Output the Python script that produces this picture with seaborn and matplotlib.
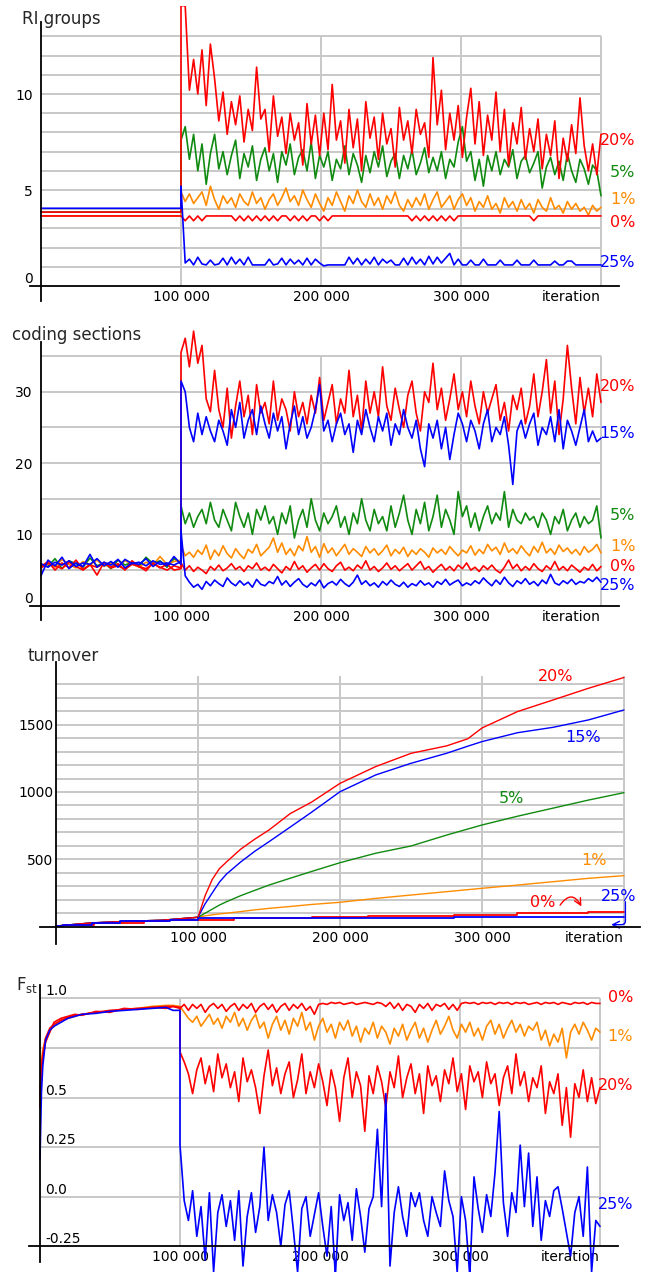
import numpy as np
import pandas as pd
import matplotlib
matplotlib.use("Agg")
import matplotlib.pyplot as plt
import seaborn as sns

# ------------------------------------------------------------------ data
post_iter = np.arange(100000, 400001, 3000)          # 101 sampled iterations after the switch

# --- RI groups
ri_pre_x = [0, 100000]
ri_pre_20 = [3.85, 3.85]
ri_pre_5 = [3.85, 3.85]
ri_pre_1 = [3.65, 3.65]
ri_pre_0 = [3.65, 3.65]
ri_pre_25 = [4.05, 4.05]
ri_20 = [14.6, 14.6, 10.2, 11.8, 10.0, 12.3, 9.4, 12.6, 10.8, 8.6,
         10.1, 7.9, 9.6, 8.4, 9.9, 7.5, 9.2, 8.1, 11.4, 8.7,
         9.2, 7.0, 9.9, 7.8, 8.8, 6.9, 9.0, 7.6, 8.5, 6.3,
         9.5, 7.4, 8.9, 6.8, 9.0, 7.1, 10.5, 7.6, 8.6, 6.4,
         9.2, 7.2, 8.7, 6.0, 9.6, 7.7, 8.8, 6.6, 9.0, 7.4,
         8.2, 6.2, 9.3, 7.6, 8.6, 6.9, 9.2, 7.9, 8.5, 6.7,
         11.9, 8.4, 10.2, 7.1, 9.0, 7.6, 9.4, 6.7, 8.8, 10.3,
         7.4, 9.6, 6.8, 8.9, 7.6, 10.1, 7.0, 9.2, 6.3, 8.5,
         7.4, 9.3, 6.6, 8.2, 7.0, 8.7, 6.1, 7.9, 6.8, 8.6,
         5.6, 7.7, 6.5, 8.4, 6.9, 9.8, 7.3, 6.0, 7.4, 5.8,
         7.9]
ri_5 = [7.6, 8.3, 6.6, 7.9, 6.0, 7.4, 5.3, 6.9, 7.9, 6.1,
        7.0, 5.8, 6.8, 7.6, 5.6, 6.9, 6.2, 7.3, 5.5, 6.6,
        7.2, 6.0, 6.9, 5.4, 7.0, 6.3, 7.4, 5.8, 6.7, 7.1,
        6.0, 7.5, 5.6, 6.8, 6.2, 7.0, 5.5, 6.6, 6.1, 7.3,
        5.8, 6.9, 6.3, 5.4, 6.8, 5.9, 7.0, 6.2, 7.3, 5.7,
        6.5, 6.9, 5.6, 6.8, 6.1, 7.1, 5.8, 6.4, 7.2, 5.9,
        6.7, 6.0, 7.0, 5.6, 6.6, 6.2, 7.5, 8.3, 6.5, 7.0,
        5.5, 6.6, 5.2, 6.8, 6.0, 7.0, 5.8, 6.6, 6.2, 7.1,
        5.6, 6.5, 6.8, 5.9, 6.4, 7.0, 5.1, 6.2, 6.7, 5.8,
        6.5, 5.5, 6.9, 6.0, 5.4, 6.6, 6.1, 5.3, 6.3, 6.0,
        4.7]
ri_1 = [4.9, 4.4, 4.8, 4.3, 4.6, 4.9, 4.2, 5.2, 4.5, 4.0,
        4.7, 4.3, 4.6, 4.1, 4.8, 4.4, 4.2, 4.9, 4.3, 4.6,
        4.0, 4.5, 4.8, 4.2, 4.6, 5.1, 4.4, 4.7, 4.2, 5.0,
        4.5, 4.1, 4.8, 4.3, 3.9, 4.6, 4.2, 4.9, 4.4, 3.9,
        4.7, 4.3, 5.0, 4.4, 4.1, 4.8, 4.2, 4.6, 4.0, 4.7,
        4.3, 4.9, 4.2, 3.9, 4.5, 4.1, 4.6, 4.2, 4.8, 4.0,
        4.5, 4.9, 4.1, 4.4, 4.7, 4.0, 4.5, 4.8, 4.2, 4.6,
        3.9, 4.4, 4.1, 4.7, 4.0, 4.3, 3.8, 4.6, 4.1, 4.4,
        3.9, 4.5, 4.0, 4.3, 3.8, 4.5, 4.1, 3.9, 4.6, 4.0,
        4.2, 3.8, 4.4, 4.0, 4.3, 3.9, 4.1, 3.7, 4.2, 3.9,
        4.1]
ri_0 = [3.65, 3.4, 3.65, 3.4, 3.65, 3.4, 3.65, 3.65, 3.65, 3.65,
        3.65, 3.65, 3.65, 3.4, 3.65, 3.4, 3.65, 3.4, 3.65, 3.4,
        3.65, 3.4, 3.65, 3.4, 3.65, 3.65, 3.4, 3.65, 3.4, 3.65,
        3.4, 3.65, 3.65, 3.4, 3.65, 3.4, 3.65, 3.65, 3.65, 3.65,
        3.65, 3.65, 3.65, 3.65, 3.65, 3.65, 3.65, 3.65, 3.65, 3.65,
        3.65, 3.65, 3.65, 3.65, 3.65, 3.4, 3.65, 3.4, 3.65, 3.4,
        3.65, 3.4, 3.65, 3.4, 3.65, 3.4, 3.65, 3.65, 3.65, 3.65,
        3.65, 3.65, 3.65, 3.65, 3.65, 3.65, 3.65, 3.65, 3.65, 3.65,
        3.65, 3.65, 3.65, 3.65, 3.4, 3.65, 3.65, 3.65, 3.65, 3.65,
        3.65, 3.65, 3.65, 3.65, 3.65, 3.65, 3.65, 3.65, 3.65, 3.65,
        3.65]
ri_25 = [5.2, 1.2, 1.4, 1.1, 1.5, 1.15, 1.1, 1.35, 1.1, 1.15,
         1.45, 1.1, 1.5, 1.15, 1.4, 1.1, 1.5, 1.1, 1.1, 1.1,
         1.1, 1.4, 1.1, 1.15, 1.45, 1.1, 1.4, 1.15, 1.35, 1.1,
         1.45, 1.1, 1.4, 1.2, 1.05, 1.1, 1.1, 1.1, 1.1, 1.1,
         1.5, 1.15, 1.45, 1.1, 1.4, 1.15, 1.5, 1.1, 1.4, 1.2,
         1.35, 1.1, 1.1, 1.45, 1.1, 1.5, 1.15, 1.4, 1.1, 1.55,
         1.15, 1.5, 1.2, 1.45, 1.7, 1.1, 1.4, 1.1, 1.1, 1.35,
         1.1, 1.1, 1.4, 1.1, 1.1, 1.1, 1.35, 1.1, 1.1, 1.1,
         1.35, 1.1, 1.1, 1.1, 1.35, 1.1, 1.1, 1.1, 1.1, 1.3,
         1.1, 1.1, 1.3, 1.3, 1.1, 1.1, 1.1, 1.1, 1.1, 1.1,
         1.1]

# --- coding sections
cs_pre_x = np.arange(0, 100001, 5000)
cs_pre_20 = [5.5, 6.2, 5.0, 6.0, 5.3, 6.4, 5.1, 5.8, 4.3, 6.1, 5.4, 5.9, 5.0, 6.3, 5.5, 4.9, 6.0, 5.3, 5.8, 5.0, 5.2]
cs_pre_15 = [4.2, 6.4, 5.6, 6.8, 5.2, 6.0, 5.5, 7.2, 5.4, 6.1, 5.7, 6.5, 5.3, 6.0, 5.8, 6.6, 5.5, 6.2, 5.6, 6.9, 5.8]
cs_pre_5 = [5.8, 5.5, 6.6, 5.2, 6.3, 5.9, 5.4, 6.7, 5.6, 6.0, 5.2, 6.4, 5.7, 6.1, 5.5, 6.8, 5.9, 6.3, 5.4, 6.6, 6.0]
cs_pre_1 = [5.6, 6.0, 5.4, 6.5, 5.8, 5.3, 6.2, 5.7, 6.4, 5.5, 6.0, 5.6, 6.3, 5.9, 5.4, 6.1, 5.7, 6.9, 5.8, 6.2, 6.4]
cs_pre_0 = [5.3, 5.9, 5.6, 5.2, 6.1, 5.5, 5.0, 5.7, 5.4, 6.0, 5.3, 5.6, 5.1, 5.8, 5.5, 5.2, 5.9, 5.4, 5.0, 5.6, 5.3]
cs_pre_25 = [5.9, 5.4, 6.1, 5.7, 6.3, 5.5, 6.0, 5.8, 6.6, 5.6, 6.2, 5.4, 6.5, 5.9, 6.1, 5.6, 6.3, 5.8, 6.0, 5.7, 6.2]
cs_20 = [35.5, 37.5, 33.5, 38.5, 34.0, 36.5, 29.0, 27.2, 33.0, 27.5,
         25.0, 30.5, 23.5, 28.0, 31.5, 26.5, 29.5, 24.0, 31.0, 27.0,
         28.5, 25.5, 31.5, 26.0, 29.0, 27.5, 24.5, 30.0, 26.5, 28.5,
         25.5, 29.5, 27.0, 32.0, 26.0, 28.5, 31.0, 25.5, 29.0, 27.0,
         33.0, 26.5, 29.5, 24.5, 31.5, 27.0, 30.0, 26.5, 33.5, 28.0,
         26.0, 30.5, 27.5, 25.0, 29.5, 31.5, 27.0, 24.5, 30.0, 28.5,
         34.0, 27.5, 30.5, 26.0, 29.0, 32.5, 27.5, 30.0, 26.5, 31.5,
         28.0, 25.5, 30.0, 27.0, 29.0, 31.0, 26.0, 28.5, 24.5, 29.5,
         27.5, 30.5, 25.5, 28.0, 32.5, 26.5, 30.0, 34.5, 27.0, 31.5,
         24.0, 29.0, 36.5, 30.5, 25.5, 32.0, 27.0, 30.5, 26.5, 32.5,
         28.5]
cs_15 = [31.5, 30.0, 25.0, 23.0, 27.0, 24.0, 26.5, 24.5, 23.0, 26.0,
         24.5, 22.5, 27.5, 25.0, 28.5, 23.5, 26.0, 27.5, 24.0, 28.0,
         25.5, 23.5, 27.0, 24.5, 26.5, 22.0, 25.5, 28.0, 24.0, 26.5,
         23.5, 25.0, 27.5, 31.0, 24.5, 26.0, 23.0, 25.5, 27.0, 24.0,
         25.5, 21.5, 26.0, 24.0, 27.5, 25.0, 23.0, 26.5, 24.5, 27.0,
         22.5, 25.5, 24.0, 27.5, 25.0, 23.5, 26.0, 22.0, 19.5, 25.5,
         23.5, 26.0, 22.0, 25.0, 20.5, 24.0, 27.0, 25.5, 23.0, 26.0,
         24.5, 22.0, 25.5, 27.5, 23.0, 25.0, 24.0, 26.5, 22.5, 17.0,
         24.5, 26.0, 23.5, 25.5, 27.0, 22.5, 25.0, 24.0, 26.5, 23.0,
         27.5, 22.0, 26.0, 24.5, 22.5, 25.0, 27.5, 23.0, 24.5, 23.0,
         23.5]
cs_5 = [14.0, 11.5, 13.0, 11.0, 12.5, 13.5, 11.5, 14.5, 12.0, 11.0,
        13.5, 12.0, 10.5, 14.5, 12.5, 11.0, 13.0, 10.0, 13.5, 12.0,
        14.0, 11.5, 12.5, 10.0, 13.0, 11.5, 14.0, 9.5, 12.0, 13.5,
        11.0, 15.0, 12.0, 10.5, 13.0, 11.5, 12.5, 14.0, 11.0, 12.5,
        10.0, 13.0, 11.5, 15.0, 12.0, 10.5, 13.5, 11.5, 12.5, 10.5,
        14.0, 11.0, 13.0, 15.5, 12.0, 10.0, 13.5, 11.5, 14.5, 10.5,
        12.5, 15.5, 11.0, 13.5, 12.0, 10.0, 16.0, 12.5, 14.0, 11.0,
        13.0, 10.5, 12.5, 14.0, 11.5, 13.0, 12.0, 16.0, 11.0, 13.5,
        12.0, 11.5, 13.0, 12.0, 12.5, 11.0, 13.0, 12.0, 10.0, 12.5,
        11.5, 13.5, 10.5, 12.0, 13.0, 11.0, 12.5, 11.5, 12.0, 14.0,
        9.5]
cs_1 = [8.5, 7.0, 7.5, 6.8, 7.8, 7.2, 8.5, 6.5, 7.8, 7.0,
        8.4, 7.3, 6.7, 8.0, 7.2, 6.6, 7.9, 7.4, 8.6, 7.0,
        7.6, 8.2, 9.5, 7.5, 8.8, 7.2, 8.0, 7.0, 8.4, 7.7,
        9.7, 7.5, 8.3, 6.8, 8.7, 7.4, 8.1, 7.0, 7.8, 8.6,
        7.2, 8.0, 7.5, 6.9, 8.3, 7.4, 8.0, 7.1, 7.7, 8.5,
        7.0, 7.9, 7.3, 8.2, 6.9, 7.8, 7.2, 8.0, 7.5, 6.8,
        8.1, 7.4, 7.9, 7.2, 8.3, 7.6, 7.0, 7.8, 7.4, 8.4,
        7.1, 7.9, 7.3, 8.6, 7.7, 8.2, 7.2, 8.8, 7.5, 8.0,
        7.3, 8.4, 7.6, 7.0, 8.3, 7.5, 8.9, 7.4, 8.0, 7.2,
        8.5, 7.6, 8.1, 7.3, 7.9, 7.1, 8.3, 7.5, 7.9, 8.6,
        7.4]
cs_0 = [6.0, 5.0, 5.6, 4.8, 5.4, 5.0, 4.5, 5.5, 5.0, 5.7,
        4.9, 5.3, 5.9, 5.1, 5.5, 4.8, 5.6, 5.2, 6.0, 5.0,
        5.4, 4.9, 5.8, 5.2, 4.6, 5.5, 5.0, 6.2, 5.1, 5.6,
        4.7, 5.3, 5.8, 5.0, 5.9, 5.2, 4.8, 5.6, 6.1, 5.0,
        5.4, 4.9, 5.7, 5.2, 6.3, 5.0, 5.5, 4.8, 5.3, 6.0,
        5.1, 5.6, 4.9, 5.4, 5.9, 5.0, 5.6, 6.2, 5.1, 5.5,
        4.7, 5.3, 5.8, 5.0, 5.5, 4.9, 5.7, 5.2, 6.0, 5.0,
        5.4, 4.8, 5.6, 5.1, 5.7, 5.0, 4.6, 5.4, 6.4, 5.2,
        5.8, 4.9, 5.5, 5.0, 5.9, 5.2, 4.8, 5.6, 5.1, 6.2,
        5.0, 5.5, 4.9, 5.7, 5.2, 4.7, 5.4, 5.0, 5.8, 4.9,
        5.5]
cs_25 = [10.5, 4.2, 3.3, 2.6, 3.0, 2.3, 3.4, 2.8, 3.6, 3.1,
         2.7, 3.9, 3.2, 2.8, 3.5, 2.9, 3.3, 2.6, 3.7, 3.0,
         2.8, 3.4, 3.1, 4.1, 2.9, 3.5, 2.7, 3.3, 3.8, 3.0,
         2.6, 3.2, 2.8, 3.6, 2.5, 3.1, 3.4, 2.9, 3.7, 3.1,
         2.7, 3.3, 4.3, 3.0, 3.5, 2.8, 3.2, 2.6, 3.4, 2.9,
         3.6, 3.0, 2.7, 3.3, 2.6, 3.1, 2.8, 3.5, 2.9, 3.2,
         2.6, 3.4, 3.0, 3.7, 2.9, 3.3, 3.6, 2.8, 3.2, 2.9,
         3.5, 3.1, 3.9, 3.3, 2.8, 3.6, 3.0, 4.0, 3.2, 2.7,
         3.5, 3.1, 3.8, 3.0, 3.4, 2.8, 3.6, 3.1, 4.4, 3.2,
         2.9, 3.5, 3.1, 3.7, 3.0, 3.4, 3.2, 3.8, 3.4, 4.0,
         3.3]

# --- turnover
to_x = [0, 25000, 50000, 75000, 100000, 105000, 110000, 115000, 120000, 130000, 140000, 150000,
        165000, 180000, 200000, 225000, 250000, 275000, 290000, 300000, 325000, 350000, 375000, 400000]
to_20 = [5, 28, 40, 48, 70, 230, 350, 430, 480, 575, 650, 718, 840, 925, 1064, 1188, 1287, 1342,
         1395, 1475, 1597, 1683, 1770, 1850]
to_15 = [5, 28, 40, 48, 70, 170, 250, 330, 390, 480, 560, 631, 740, 850, 1002, 1126, 1213, 1287,
         1340, 1374, 1440, 1480, 1535, 1609]
to_5 = [5, 28, 40, 48, 70, 100, 130, 160, 185, 230, 270, 309, 360, 410, 475, 545, 599, 680, 725,
        755, 820, 880, 940, 995]
to_1 = [5, 28, 40, 48, 70, 80, 88, 95, 100, 112, 125, 136, 150, 165, 181, 210, 235, 260, 275, 285,
        309, 334, 359, 379]
to_0_x = [0, 5000, 27000, 62000, 78000, 100000, 125000, 180000, 220000, 280000, 325000, 375000, 400000]
to_0 = [5, 12, 28, 40, 48, 50, 62, 69, 79, 87, 99, 111, 111]
to_25_x = [0, 5000, 25000, 45000, 80000, 100000, 280000, 400000]
to_25 = [5, 12, 28, 42, 48, 62, 69, 69]

# --- Fst
fst_pre_x = [0, 1000, 2000, 4000, 7000, 10000, 15000, 20000, 25000, 30000, 40000, 50000, 60000,
             70000, 80000, 90000, 95000, 100000]
fst_pre_25 = [0.19, 0.52, 0.66, 0.79, 0.84, 0.86, 0.88, 0.90, 0.91, 0.92, 0.925, 0.935, 0.94, 0.945,
              0.95, 0.955, 0.94, 0.94]
fst_pre_0 = [0.45, 0.65, 0.72, 0.80, 0.85, 0.87, 0.89, 0.905, 0.915, 0.92, 0.93, 0.94, 0.945, 0.95,
             0.955, 0.96, 0.96, 0.955]
fst_pre_1 = [0.55, 0.68, 0.74, 0.80, 0.84, 0.86, 0.89, 0.90, 0.91, 0.92, 0.93, 0.935, 0.945, 0.95,
             0.96, 0.965, 0.965, 0.96]
fst_pre_20 = [0.50, 0.62, 0.70, 0.78, 0.83, 0.88, 0.90, 0.91, 0.92, 0.915, 0.935, 0.93, 0.95, 0.945,
              0.955, 0.95, 0.96, 0.95]
fst_0 = [0.95, 0.97, 0.94, 0.97, 0.95, 0.97, 0.93, 0.96, 0.975, 0.95,
         0.97, 0.935, 0.96, 0.975, 0.94, 0.97, 0.95, 0.975, 0.93, 0.96,
         0.975, 0.945, 0.97, 0.93, 0.96, 0.975, 0.94, 0.97, 0.95, 0.975,
         0.94, 0.96, 0.92, 0.97, 0.975, 0.97, 0.98, 0.975, 0.98, 0.97,
         0.975, 0.98, 0.97, 0.975, 0.98, 0.975, 0.97, 0.98, 0.975, 0.96,
         0.98, 0.95, 0.975, 0.94, 0.97, 0.96, 0.93, 0.97, 0.95, 0.975,
         0.94, 0.97, 0.96, 0.975, 0.945, 0.97, 0.94, 0.975, 0.98, 0.975,
         0.98, 0.97, 0.98, 0.975, 0.98, 0.97, 0.98, 0.975, 0.98, 0.97,
         0.98, 0.975, 0.98, 0.97, 0.975, 0.98, 0.97, 0.98, 0.975, 0.98,
         0.97, 0.98, 0.975, 0.97, 0.98, 0.975, 0.98, 0.97, 0.98, 0.975,
         0.975]
fst_1 = [0.96, 0.93, 0.90, 0.88, 0.91, 0.86, 0.89, 0.92, 0.87, 0.90,
         0.85, 0.91, 0.88, 0.93, 0.86, 0.90, 0.84, 0.89, 0.92, 0.85,
         0.88, 0.80, 0.87, 0.91, 0.84, 0.89, 0.82, 0.90, 0.86, 0.93,
         0.84, 0.88, 0.79, 0.86, 0.90, 0.83, 0.87, 0.80, 0.88, 0.84,
         0.89, 0.81, 0.86, 0.78, 0.85, 0.82, 0.88, 0.80, 0.86, 0.83,
         0.77, 0.85, 0.81, 0.87, 0.79, 0.84, 0.88, 0.80, 0.85, 0.78,
         0.84, 0.89, 0.82, 0.86, 0.91, 0.84, 0.80, 0.87, 0.83, 0.88,
         0.81, 0.85, 0.79, 0.86, 0.89, 0.82, 0.87, 0.80, 0.85, 0.89,
         0.83, 0.87, 0.81, 0.86, 0.84, 0.88, 0.79, 0.84, 0.76, 0.82,
         0.78, 0.85, 0.70, 0.83, 0.87, 0.82, 0.88, 0.84, 0.79, 0.85,
         0.83]
fst_20 = [0.73, 0.68, 0.62, 0.52, 0.64, 0.70, 0.57, 0.66, 0.53, 0.72,
          0.60, 0.67, 0.55, 0.63, 0.48, 0.70, 0.58, 0.64, 0.55, 0.42,
          0.61, 0.74, 0.56, 0.65, 0.52, 0.62, 0.68, 0.50, 0.59, 0.72,
          0.52, 0.63, 0.55, 0.67, 0.58, 0.46, 0.64, 0.55, 0.38, 0.60,
          0.70, 0.50, 0.63, 0.56, 0.33, 0.61, 0.52, 0.66, 0.58, 0.45,
          0.63, 0.55, 0.71, 0.50, 0.60, 0.67, 0.52, 0.62, 0.42, 0.66,
          0.56, 0.61, 0.48, 0.64, 0.57, 0.70, 0.53, 0.62, 0.44, 0.66,
          0.58, 0.63, 0.50, 0.68, 0.57, 0.62, 0.46, 0.60, 0.66, 0.52,
          0.72, 0.56, 0.63, 0.48, 0.60, 0.55, 0.66, 0.42, 0.58, 0.52,
          0.62, 0.36, 0.55, 0.30, 0.57, 0.50, 0.64, 0.48, 0.60, 0.47,
          0.55]
fst_25 = [0.26, -0.02, -0.12, 0.03, -0.20, -0.05, -0.32, 0.02, -0.38, -0.08,
          0.01, -0.15, -0.02, -0.22, 0.03, -0.35, -0.10, 0.02, -0.18, -0.05,
          0.25, -0.12, 0.01, -0.08, -0.25, -0.04, 0.03, -0.17, -0.38, -0.06,
          0.00, -0.20, -0.09, 0.02, -0.15, -0.30, -0.05, -0.40, 0.01, -0.12,
          -0.03, -0.22, 0.04, -0.10, -0.28, -0.06, 0.00, 0.34, -0.05, 0.52,
          -0.35, -0.08, 0.05, -0.10, -0.20, 0.02, -0.05, 0.02, -0.12, -0.20,
          0.00, -0.08, -0.15, 0.13, -0.02, -0.10, -0.38, 0.00, -0.12, -0.40,
          0.10, -0.06, -0.18, 0.01, -0.10, 0.12, 0.43, -0.03, -0.20, 0.02,
          -0.08, 0.26, -0.05, 0.22, -0.15, 0.10, -0.22, -0.02, -0.10, 0.03,
          0.05, -0.06, -0.18, -0.30, -0.08, 0.00, -0.20, 0.15, -0.38, -0.12,
          -0.15]

# ------------------------------------------------------------------ style
sns.set_theme(style="white")
plt.rcParams["font.family"] = ["DejaVu Sans"]

RED, GREEN, ORANGE, BLUE = "#ff0000", "#108a10", "#ff8c00", "#0000ff"
GRID = "#c8c8c8"
PAL = {"0%": RED, "1%": ORANGE, "5%": GREEN, "15%": BLUE, "20%": RED, "25%": BLUE}

W, H = 647, 1272
fig = plt.figure(figsize=(W / 100, H / 100), dpi=100)


def axes_px(left, right, top, bottom):
    return fig.add_axes([left / W, 1 - bottom / H, (right - left) / W, (bottom - top) / H])


def frame(parts):
    rows = []
    for name, xs, ys in parts:
        xs = np.asarray(xs, float)
        ys = np.asarray(ys, float)
        assert len(xs) == len(ys), (name, len(xs), len(ys))
        rows.append(pd.DataFrame({"iteration": xs, "value": ys, "series": name}))
    return pd.concat(rows, ignore_index=True)


def draw(ax, df, order, lw=1.2, **kw):
    sns.lineplot(data=df, x="iteration", y="value", hue="series", hue_order=order,
                 palette=PAL, estimator=None, sort=False, legend=False, lw=lw, ax=ax, **kw)


def style(ax, xlim, ylim, yticks, ylabels, hgrid, vlo, vhi, xspine, lbounds, ypad):
    ax.set_xlim(*xlim)
    ax.set_ylim(*ylim)
    ax.set_facecolor("none")
    ax.grid(False)
    ax.set_xlabel("")
    ax.set_ylabel("")
    for s in ("top", "right"):
        ax.spines[s].set_visible(False)
    ax.spines["left"].set_position(("data", 0))
    ax.spines["bottom"].set_position(("data", xspine))
    ax.spines["left"].set_bounds(*lbounds)
    for s in ("left", "bottom"):
        ax.spines[s].set_color("black")
        ax.spines[s].set_linewidth(1.3)
        ax.spines[s].set_zorder(5)
    ax.hlines(hgrid, 0, 400000, color=GRID, lw=1.4, zorder=0)
    ax.vlines([100000, 200000, 300000, 400000], vlo, vhi, color=GRID, lw=1.4, zorder=0)
    ax.set_xticks([100000, 200000, 300000, 400000], ["100 000", "200 000", "300 000", "iteration"])
    ax.get_xticklabels()[-1].set_ha("right")
    ax.set_yticks(yticks, ylabels)
    ax.tick_params(axis="both", length=0, labelsize=10, labelcolor="black")
    ax.tick_params(axis="x", pad=3)
    ax.tick_params(axis="y", pad=ypad)


def tag(ax, x, y, s, color, ha="right"):
    ax.text(x, y, s, color=color, fontsize=11.5, ha=ha, va="center", clip_on=False)


# ---------------------------------------------------------------- panel 1
ax1 = axes_px(29.8, 619.2, 5.7, 301.4)
pre = list(ri_pre_x)
df1 = frame([
    ("1%", pre + list(post_iter), ri_pre_1 + ri_1),
    ("5%", pre + list(post_iter), ri_pre_5 + ri_5),
    ("20%", pre + list(post_iter), ri_pre_20 + ri_20),
    ("0%", pre + list(post_iter), ri_pre_0 + ri_0),
    ("25%", pre + list(post_iter), ri_pre_25 + ri_25),
])
draw(ax1, df1, ["1%", "5%", "20%", "0%", "25%"])
style(ax1, (-8000, 413000), (-0.8, 14.6), [0, 5, 10], ["0", "5", "10"],
      list(range(1, 14)), 0, 13, 0, (-0.8, 13.75), 6)
ax1.get_yticklabels()[0].set_va("bottom")
for s, y, c in [("20%", 7.6, RED), ("5%", 5.9, GREEN), ("1%", 4.5, ORANGE),
                ("0%", 3.3, RED), ("25%", 1.25, BLUE)]:
    tag(ax1, 424500, y, s, c)
fig.text(22 / W, 1 - 19 / H, "RI groups", fontsize=12, va="center", ha="left")

# ---------------------------------------------------------------- panel 2
ax2 = axes_px(29.8, 619.2, 324, 620)
pre = list(cs_pre_x)
df2 = frame([
    ("5%", pre + list(post_iter), cs_pre_5 + cs_5),
    ("1%", pre + list(post_iter), cs_pre_1 + cs_1),
    ("0%", pre + list(post_iter), cs_pre_0 + cs_0),
    ("20%", pre + list(post_iter), cs_pre_20 + cs_20),
    ("25%", pre + list(post_iter), cs_pre_25 + cs_25),
    ("15%", pre + list(post_iter), cs_pre_15 + cs_15),
])
draw(ax2, df2, ["5%", "1%", "0%", "20%", "25%", "15%"])
style(ax2, (-8000, 413000), (-2, 39.5), [0, 10, 20, 30], ["0", "10", "20", "30"],
      [5, 10, 15, 20, 25, 30, 35], 0, 35, 0, (-2, 37), 6)
ax2.get_yticklabels()[0].set_va("bottom")
for s, y, c in [("20%", 30.7, RED), ("15%", 24.2, BLUE), ("5%", 12.7, GREEN),
                ("1%", 8.3, ORANGE), ("0%", 5.5, RED), ("25%", 2.9, BLUE)]:
    tag(ax2, 424500, y, s, c)
fig.text(12 / W, 1 - 335 / H, "coding sections", fontsize=12, va="center", ha="left")

# ---------------------------------------------------------------- panel 3
ax3 = axes_px(40.4, 639.6, 662, 944.2)
df3 = frame([
    ("1%", to_x, to_1),
    ("5%", to_x, to_5),
    ("15%", to_x, to_15),
    ("20%", to_x, to_20),
])
draw(ax3, df3, ["1%", "5%", "15%", "20%"], lw=1.0)
df3s = frame([
    ("0%", to_0_x, to_0),
    ("25%", to_25_x, to_25),
])
draw(ax3, df3s, ["0%", "25%"], lw=1.3, drawstyle="steps-post")
style(ax3, (-11000, 411000), (-130, 1965), [500, 1000, 1500], ["500", "1000", "1500"],
      list(range(100, 1801, 100)), 0, 1860, 0, (-130, 1965), 2)
for s, x, y, c in [("20%", 352000, 1861, RED), ("15%", 371000, 1408, BLUE),
                   ("5%", 321000, 955, GREEN), ("1%", 379000, 495, ORANGE),
                   ("0%", 343000, 176, RED), ("25%", 396000, 222, BLUE)]:
    ax3.text(x, y, s, color=c, fontsize=11.5, ha="center", va="center", clip_on=False)
ax3.annotate("", xy=(370000, 150), xytext=(355000, 160),
             arrowprops=dict(arrowstyle="->", color=RED, lw=1.0,
                             connectionstyle="arc3,rad=-0.8", shrinkA=0, shrinkB=0))
ax3.annotate("", xy=(391000, 15), xytext=(401000, 185),
             arrowprops=dict(arrowstyle="->", color=BLUE, lw=1.0,
                             connectionstyle="angle,angleA=90,angleB=0,rad=4",
                             shrinkA=0, shrinkB=0), annotation_clip=False)
fig.text(28 / W, 1 - 656 / H, "turnover", fontsize=12, va="center", ha="left")

# ---------------------------------------------------------------- panel 4
ax4 = axes_px(28.8, 618.2, 984.6, 1272)
pre = list(fst_pre_x)
df4 = frame([
    ("1%", pre + list(post_iter), fst_pre_1 + fst_1),
    ("0%", pre + list(post_iter), fst_pre_0 + fst_0),
    ("20%", pre + list(post_iter), fst_pre_20 + fst_20),
    ("25%", pre + list(post_iter), fst_pre_25 + fst_25),
])
draw(ax4, df4, ["1%", "0%", "20%", "25%"])
style(ax4, (-8000, 413000), (-0.38, 1.07), [-0.25, 0.0, 0.25, 0.5, 1.0],
      ["-0.25", "0.0", "0.25", "0.5", "1.0"], [0.0, 0.25, 0.5, 0.75, 1.0], -0.25, 1.0,
      -0.25, (-0.33, 1.07), -4)
for lab in ax4.get_yticklabels():
    lab.set_ha("left")
    lab.set_va("bottom")
for s, y, c in [("0%", 1.005, RED), ("1%", 0.81, ORANGE), ("20%", 0.56, RED), ("25%", -0.04, BLUE)]:
    tag(ax4, 423500, y, s, c)
fig.text(16 / W, 1 - 985 / H, r"F$_{\mathregular{st}}$", fontsize=12, va="center", ha="left")

fig.savefig("out.png", dpi=100)
